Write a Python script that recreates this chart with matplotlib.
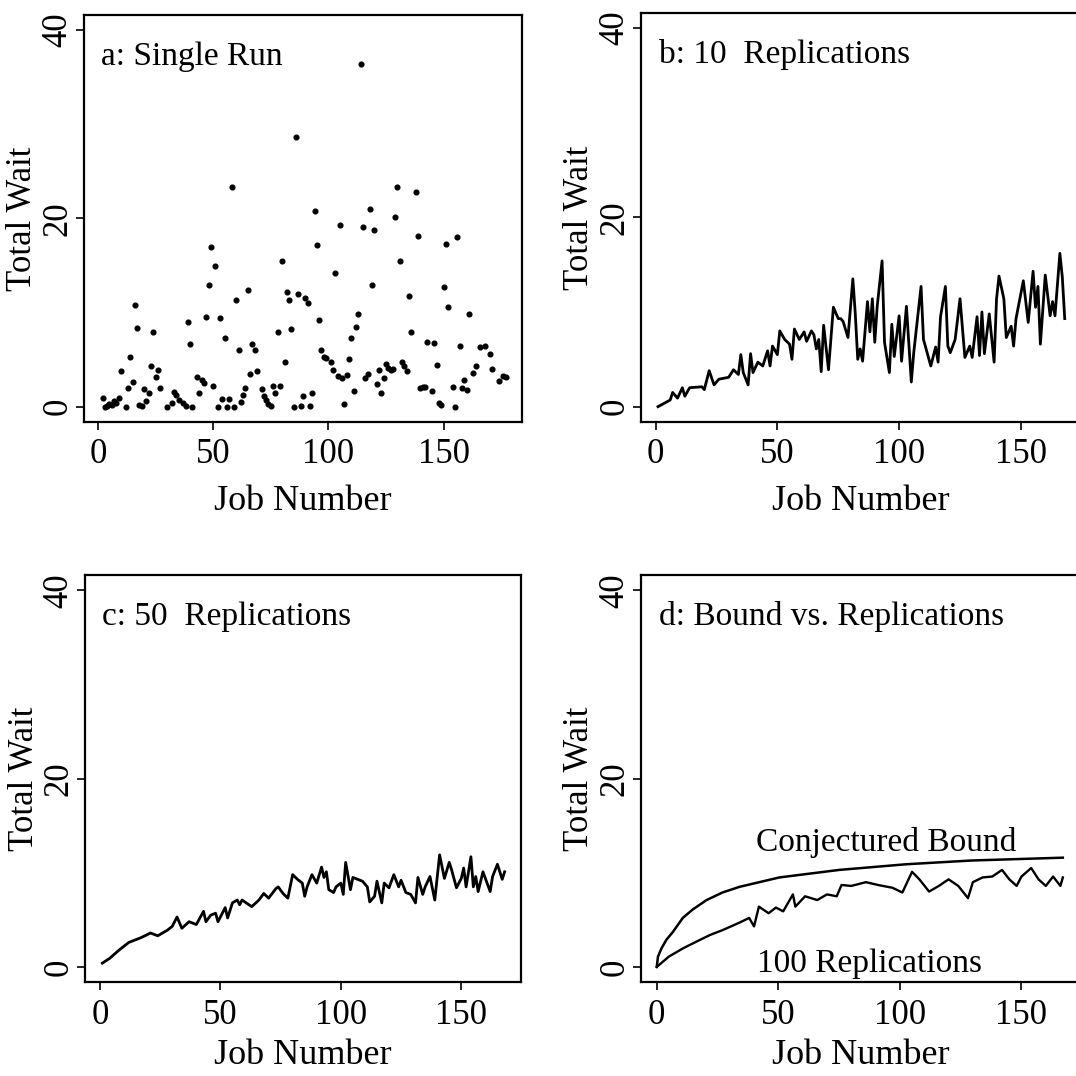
import matplotlib
matplotlib.use("Agg")
import matplotlib.pyplot as plt

plt.rcParams['font.family'] = ['Liberation Serif', 'DejaVu Serif']

# panel a: single run (job number, total wait)
a_job = [2, 3, 4, 5, 6, 7, 8, 9, 10, 12, 13, 14, 15, 16, 17, 18, 19, 20, 21, 22,
         23, 24, 25, 26, 27, 30, 32, 33, 34, 35, 37, 38, 39, 40, 41, 43, 44, 45, 46, 47,
         48, 49, 50, 51, 52, 53, 54, 55, 56, 57, 58, 59, 60, 61, 62, 63, 64, 65, 66, 67,
         68, 69, 71, 72, 73, 74, 75, 76, 77, 78, 79, 80, 81, 82, 83, 84, 85, 86, 87, 88,
         89, 90, 91, 92, 93, 94, 95, 96, 97, 98, 99, 101, 102, 103, 104, 105, 106, 107, 108, 109,
         110, 111, 112, 113, 114, 115, 116, 117, 118, 119, 120, 121, 122, 123, 124, 125, 126, 127, 128, 129,
         130, 131, 132, 133, 134, 135, 136, 138, 139, 140, 141, 142, 143, 145, 146, 147, 148, 149, 150, 151,
         152, 154, 155, 156, 157, 158, 159, 160, 161, 163, 164, 166, 168, 170, 171, 174, 176, 177]
a_wait = [0.9, 0.0, 0.1, 0.3, 0.2, 0.6, 0.4, 0.9, 3.8, 0.0, 2.0, 5.3, 2.6, 10.8, 8.4, 0.2, 0.1, 1.9, 0.6, 1.5,
          4.3, 7.9, 3.2, 3.9, 2.0, 0.0, 0.4, 1.6, 1.2, 0.7, 0.4, 0.1, 9.0, 6.7, 0.0, 3.2, 1.5, 2.8, 2.5, 9.5,
          12.9, 17.0, 2.2, 14.9, 0.0, 9.4, 0.8, 7.3, 0.0, 0.8, 23.3, 0.0, 11.3, 6.0, 0.5, 1.2, 2.0, 12.4, 3.5, 6.7,
          6.0, 3.8, 1.9, 1.1, 0.7, 0.3, 0.1, 2.2, 1.5, 7.9, 2.2, 15.5, 4.8, 12.2, 11.3, 8.3, 0.0, 28.6, 12.0, 0.1,
          1.1, 11.5, 11.0, 0.1, 1.5, 20.8, 17.2, 9.2, 6.0, 5.3, 5.2, 4.8, 3.9, 14.2, 3.3, 19.3, 3.1, 0.3, 3.4, 5.1,
          7.3, 1.7, 8.5, 9.9, 36.4, 19.1, 3.1, 3.5, 21.0, 12.9, 18.8, 2.4, 3.9, 1.5, 3.0, 4.5, 4.1, 3.9, 4.0, 20.1,
          23.3, 15.5, 4.8, 4.3, 3.8, 11.8, 7.9, 22.8, 18.1, 2.0, 2.1, 2.1, 6.9, 1.7, 6.8, 4.4, 0.4, 0.2, 12.7, 17.3,
          10.6, 2.1, 0.0, 18.0, 6.4, 2.0, 2.8, 1.8, 9.9, 3.6, 4.3, 6.3, 6.4, 5.6, 4.0, 2.7, 3.3, 3.2]

# panel b: mean of 10 replications
b_job = [1, 6, 7, 9, 11, 12, 14, 19, 20, 22, 24, 26, 30, 32, 34, 35, 36, 38, 39, 40,
         42, 44, 46, 47, 48, 50, 51, 53, 55, 56, 57, 59, 61, 62, 64, 65, 66, 67, 68, 69,
         71, 73, 75, 76, 77, 79, 81, 82, 83, 84, 85, 87, 88, 89, 90, 91, 93, 94, 96, 97,
         98, 100, 101, 103, 105, 106, 109, 110, 113, 115, 116, 117, 119, 120, 121, 123, 125, 127, 129, 130,
         132, 133, 134, 135, 137, 139, 140, 141, 143, 144, 146, 147, 148, 151, 153, 155, 156, 157, 158, 160,
         162, 163, 164, 166, 167, 168]
b_wait = [0.0, 0.7, 1.5, 0.9, 2.0, 1.1, 2.0, 2.1, 1.8, 3.8, 2.3, 2.9, 3.1, 3.9, 3.4, 5.5, 3.6, 2.3, 5.6, 3.6,
          4.7, 4.3, 5.9, 4.3, 6.4, 5.5, 8.0, 7.1, 6.6, 5.0, 8.2, 7.1, 7.9, 6.9, 8.0, 7.6, 6.1, 7.1, 3.7, 8.6,
          3.9, 10.5, 9.3, 9.3, 9.0, 7.3, 13.5, 9.8, 5.0, 6.1, 4.8, 11.1, 7.9, 11.4, 6.8, 10.6, 15.4, 6.8, 3.6, 8.7,
          5.3, 9.6, 4.8, 10.6, 2.6, 5.7, 12.7, 7.1, 4.3, 6.3, 4.7, 9.5, 12.7, 6.4, 5.7, 7.1, 11.4, 5.2, 6.4, 5.2,
          9.5, 5.4, 10.0, 5.6, 9.8, 4.7, 11.4, 13.8, 11.4, 7.3, 8.5, 6.4, 9.3, 13.3, 8.9, 14.3, 10.5, 12.7, 6.6, 13.9,
          9.6, 11.1, 9.6, 16.2, 13.7, 9.3]

# panel c: mean of 50 replications
c_job = [1, 4, 8, 12, 17, 21, 24, 28, 30, 32, 34, 37, 40, 43, 44, 46, 48, 49, 52, 53,
         55, 57, 58, 59, 63, 66, 68, 70, 73, 74, 76, 78, 80, 82, 84, 85, 86, 88, 90, 92,
         93, 94, 95, 97, 98, 100, 101, 102, 104, 105, 107, 109, 111, 112, 114, 115, 117, 118, 120, 122,
         124, 125, 127, 129, 131, 132, 134, 135, 137, 139, 141, 143, 145, 146, 148, 150, 151, 152, 154, 155,
         156, 157, 159, 162, 163, 165, 167, 168]
c_wait = [0.4, 0.9, 1.8, 2.6, 3.1, 3.6, 3.3, 3.9, 4.3, 5.3, 4.1, 4.8, 4.5, 5.9, 4.8, 5.5, 5.7, 4.8, 6.3, 5.2,
          6.8, 7.1, 6.6, 7.1, 6.4, 7.1, 7.8, 7.3, 8.3, 8.5, 7.8, 7.3, 9.8, 9.3, 8.9, 7.5, 8.5, 9.8, 8.9, 10.6,
          9.5, 10.1, 8.2, 7.9, 8.5, 8.9, 7.7, 11.1, 8.2, 9.5, 9.3, 9.1, 8.5, 6.9, 7.5, 9.1, 6.8, 8.9, 8.4, 9.8,
          8.5, 9.2, 7.9, 7.7, 6.8, 9.5, 7.7, 8.5, 9.6, 7.1, 11.9, 9.4, 11.1, 10.3, 8.4, 9.4, 10.5, 8.5, 11.7, 8.5,
          9.6, 8.0, 10.1, 8.0, 9.6, 10.9, 9.3, 10.1]

# panel d: conjectured bound and mean of 100 replications
bound_job = [0, 0.5, 2, 4, 6.6, 10.7, 14.8, 20.5, 27, 34, 50.4, 75, 102.5, 129.5, 167]
bound_wait = [0.0, 1.1, 2.0, 2.9, 3.7, 5.2, 6.1, 7.1, 7.9, 8.5, 9.5, 10.3, 10.9, 11.3, 11.6]

d_job = [0, 5, 11, 18, 22, 27, 34, 38, 40, 42, 46, 49, 52, 56, 57, 61, 66, 70, 74, 76,
         80, 86, 91, 97, 101, 105, 108, 112, 116, 120, 124, 128, 130, 134, 138, 142, 145, 148, 150, 154,
         157, 160, 163, 166, 167]
d_wait = [0.0, 1.1, 2.0, 2.9, 3.4, 3.9, 4.7, 5.2, 4.3, 6.4, 5.7, 6.3, 5.9, 7.7, 6.4, 7.5, 7.1, 7.7, 7.5, 8.7,
          8.6, 9.0, 8.7, 8.4, 7.9, 10.1, 9.3, 8.0, 8.6, 9.3, 8.6, 7.3, 9.0, 9.5, 9.6, 10.3, 9.3, 8.6, 9.6, 10.5,
          9.3, 8.6, 9.6, 8.6, 9.5]

titles = ["a: Single Run", "b: 10  Replications", "c: 50  Replications", "d: Bound vs. Replications"]

fig = plt.figure(figsize=(10.76, 10.76), dpi=100)
ax_a = fig.add_axes([0.078, 0.608, 0.407, 0.378])
ax_b = fig.add_axes([0.5957, 0.608, 0.409, 0.380])
ax_c = fig.add_axes([0.079, 0.0874, 0.405, 0.378])
ax_d = fig.add_axes([0.5957, 0.0874, 0.409, 0.378])

ax_a.plot(a_job, a_wait, 'o', color='black', markersize=3.4)
ax_b.plot(b_job, b_wait, '-', color='black', lw=2.0)
ax_c.plot(c_job, c_wait, '-', color='black', lw=2.0)
ax_d.plot(bound_job, bound_wait, '-', color='black', lw=1.8)
ax_d.plot(d_job, d_wait, '-', color='black', lw=1.7)

ax_d.text(41, 12.3, "Conjectured Bound", fontsize=24, va='baseline', ha='left')
ax_d.text(41.4, -0.5, "100 Replications", fontsize=24, va='baseline', ha='left')

xlims = [(-6.1, 184), (-6, 174.7), (-6.2, 174.7), (-6.5, 174.5)]
pads = [10, 10, 5, 5]
for ax, title, xl, lp in zip([ax_a, ax_b, ax_c, ax_d], titles, xlims, pads):
    ax.set_xlim(xl)
    ax.set_ylim(-1.6, 41.6)
    ax.set_xticks([0, 50, 100, 150])
    ax.set_yticks([0, 20, 40])
    ax.tick_params(direction='out', length=6, width=1.2, labelsize=25)
    ax.tick_params(axis='x', pad=6)
    ax.tick_params(axis='y', pad=1)
    for lab in ax.get_yticklabels():
        lab.set_rotation(90)
        lab.set_va('center')
    for sp in ax.spines.values():
        sp.set_linewidth(1.6)
    ax.set_xlabel("Job Number", fontsize=26, labelpad=lp)
    ax.set_ylabel("Total Wait", fontsize=25)
    ax.yaxis.set_label_coords(-0.102, 0.5)
    ax.text(0.04, 0.877, title, transform=ax.transAxes, fontsize=24, va='baseline', ha='left')

fig.savefig("out.png", dpi=100)
